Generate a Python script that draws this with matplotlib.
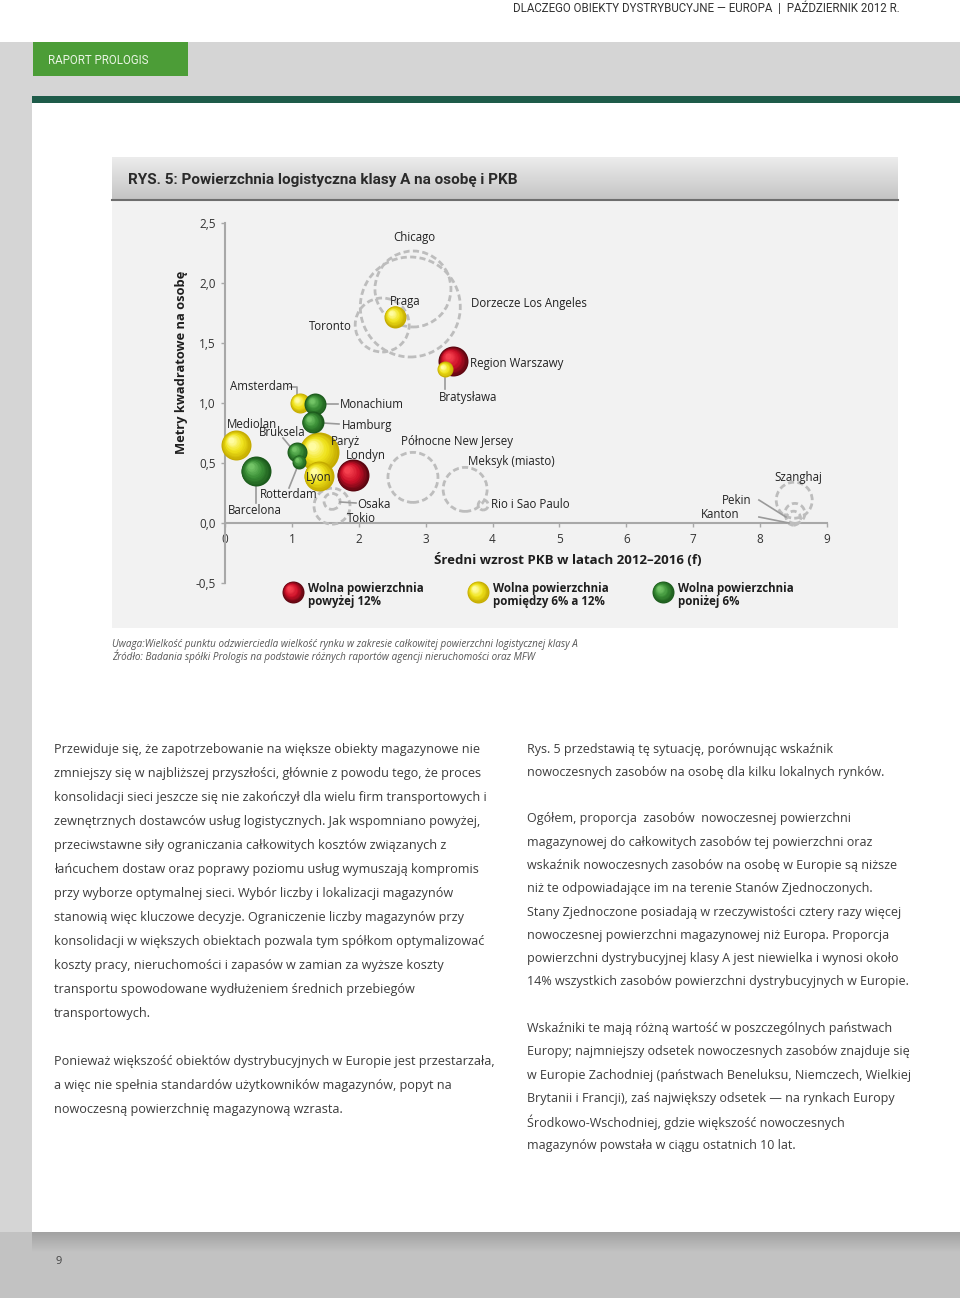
import numpy as np
import matplotlib
matplotlib.use("Agg")
import matplotlib.pyplot as plt
import matplotlib.colors as mcolors
from matplotlib.transforms import offset_copy

plt.rcParams['font.family'] = ['Open Sans', 'DejaVu Sans']
NARROW = ['Roboto', 'Open Sans', 'DejaVu Sans']

# --- dane: rynki (wzrost PKB, m2 na osobe, wielkosc rynku, wolna powierzchnia) ---
miasta = ['Chicago', 'Dorzecze Los Angeles', 'Toronto', 'Północne New Jersey',
          'Meksyk (miasto)', 'Rio i Sao Paulo', 'Tokio', 'Osaka',
          'Szanghaj', 'Pekin', 'Kanton',
          'Paryż', 'Mediolan', 'Barcelona', 'Bruksela', 'Rotterdam', 'Lyon',
          'Londyn', 'Amsterdam', 'Monachium', 'Hamburg', 'Praga',
          'Region Warszawy', 'Bratysława']
pkb = [2.81, 2.77, 2.35, 2.81, 3.59, 3.86, 1.60, 1.60, 8.51, 8.52, 8.50,
       1.40, 0.17, 0.46, 1.08, 1.11, 1.40, 1.91, 1.12, 1.35, 1.31, 2.54,
       3.41, 3.29]
m2_osoba = [1.95, 1.80, 1.65, 0.38, 0.28, 0.15, 0.14, 0.18, 0.19, 0.08, 0.04,
            0.59, 0.65, 0.43, 0.59, 0.51, 0.39, 0.40, 1.00, 0.99, 0.84, 1.72,
            1.35, 1.28]
wielkosc = [38, 50, 27, 25, 22, 5, 18, 8, 18, 10, 7,
            20, 15, 15, 10, 7, 15, 16, 10, 11, 11, 11, 15, 8]
# 'n' = rynek pozaeuropejski (bez danych o pustostanach)
wolna = ['n', 'n', 'n', 'n', 'n', 'n', 'n', 'n', 'n', 'n', 'n',
         'y', 'y', 'g', 'g', 'g', 'y', 'r', 'y', 'g', 'g', 'y', 'r', 'y']

y_ticks = [-0.5, 0.0, 0.5, 1.0, 1.5, 2.0, 2.5]
y_labels = ['-0,5', '0,0', '0,5', '1,0', '1,5', '2,0', '2,5']
x_ticks = [0, 1, 2, 3, 4, 5, 6, 7, 8, 9]

legenda = [('r', 'Wolna powierzchnia\npowyżej 12%'),
           ('y', 'Wolna powierzchnia\npomiędzy 6% a 12%'),
           ('g', 'Wolna powierzchnia\nponiżej 6%')]

tekst_lewy = [
    "Przewiduje się, że zapotrzebowanie na większe obiekty magazynowe nie",
    "zmniejszy się w najbliższej przyszłości, głównie z powodu tego, że proces",
    "konsolidacji sieci jeszcze się nie zakończył dla wielu firm transportowych i",
    "zewnętrznych dostawców usług logistycznych. Jak wspomniano powyżej,",
    "przeciwstawne siły ograniczania całkowitych kosztów związanych z",
    "łańcuchem dostaw oraz poprawy poziomu usług wymuszają kompromis",
    "przy wyborze optymalnej sieci. Wybór liczby i lokalizacji magazynów",
    "stanowią więc kluczowe decyzje. Ograniczenie liczby magazynów przy",
    "konsolidacji w większych obiektach pozwala tym spółkom optymalizować",
    "koszty pracy, nieruchomości i zapasów w zamian za wyższe koszty",
    "transportu spowodowane wydłużeniem średnich przebiegów",
    "transportowych.",
    "",
    "Ponieważ większość obiektów dystrybucyjnych w Europie jest przestarzała,",
    "a więc nie spełnia standardów użytkowników magazynów, popyt na",
    "nowoczesną powierzchnię magazynową wzrasta.",
]
tekst_prawy = [
    "Rys. 5 przedstawią tę sytuację, porównując wskaźnik",
    "nowoczesnych zasobów na osobę dla kilku lokalnych rynków.",
    "",
    "Ogółem, proporcja  zasobów  nowoczesnej powierzchni",
    "magazynowej do całkowitych zasobów tej powierzchni oraz",
    "wskaźnik nowoczesnych zasobów na osobę w Europie są niższe",
    "niż te odpowiadające im na terenie Stanów Zjednoczonych.",
    "Stany Zjednoczone posiadają w rzeczywistości cztery razy więcej",
    "nowoczesnej powierzchni magazynowej niż Europa. Proporcja",
    "powierzchni dystrybucyjnej klasy A jest niewielka i wynosi około",
    "14% wszystkich zasobów powierzchni dystrybucyjnych w Europie.",
    "",
    "Wskaźniki te mają różną wartość w poszczególnych państwach",
    "Europy; najmniejszy odsetek nowoczesnych zasobów znajduje się",
    "w Europie Zachodniej (państwach Beneluksu, Niemczech, Wielkiej",
    "Brytanii i Francji), zaś największy odsetek — na rynkach Europy",
    "Środkowo-Wschodniej, gdzie większość nowoczesnych",
    "magazynów powstała w ciągu ostatnich 10 lat.",
]

KOLORY = {'r': ('#5a0610', '#cc1028', '#f5404e'),
          'y': ('#c4aa00', '#f0e31a', '#fffca0'),
          'g': ('#1c5a1c', '#3a8e36', '#72c466')}

W, H = 960, 1298
fig = plt.figure(figsize=(W / 100, H / 100), dpi=100)
fig.patch.set_facecolor('#d5d5d5')

# tlo strony w pikselach
bg = fig.add_axes([0, 0, 1, 1])
bg.set_xlim(0, W)
bg.set_ylim(H, 0)
bg.axis('off')


def rect(x0, y0, x1, y1, c, z=1):
    bg.add_patch(plt.Rectangle((x0, y0), x1 - x0, y1 - y0, color=c, lw=0, zorder=z))


def gradient(x0, y0, x1, y1, c_top, c_bot, z):
    # wiersz 0 obrazu trafia na gorna krawedz (y0)
    g = np.linspace(0, 1, 60).reshape(-1, 1)
    cm = mcolors.LinearSegmentedColormap.from_list('g', [c_top, c_bot])
    bg.imshow(g, extent=(x0, x1, y1, y0), cmap=cm, aspect='auto', zorder=z)


rect(0, 0, W, 42, 'white')
rect(0, 1232, W, H, '#c2c2c2', 1.4)
gradient(32, 1232, W, 1252, '#a2a2a2', '#c2c2c2', 1.6)
rect(33, 42, 188, 76, '#4c9d37', 2)
rect(32, 96, W, 103, '#1e5b49', 2)
rect(32, 103, W, 1232, 'white', 2)
rect(112, 200, 898, 628, '#f2f2f2', 3)
gradient(112, 157, 898, 200, '#ececec', '#c4c4c4', 3)
bg.plot([112, 898], [200, 200], color='#6e6e6e', lw=1.5, zorder=4)
bg.set_xlim(0, W)
bg.set_ylim(H, 0)

bg.text(900, 8, 'DLACZEGO OBIEKTY DYSTRYBUCYJNE — EUROPA  |  PAŹDZIERNIK 2012 R.',
        family=NARROW, fontsize=8.3, color='#333333', ha='right', va='center', zorder=5)
bg.text(48, 60, 'RAPORT PROLOGIS', family=NARROW, fontsize=8.3, color='#eaf5e4',
        ha='left', va='center', zorder=5)
bg.text(128, 180, 'RYS. 5: Powierzchnia logistyczna klasy A na osobę i PKB', family=NARROW,
        fontsize=11.0, fontweight='bold', color='#2a2a2a', ha='left', va='center', zorder=5)
bg.text(56, 1261, '9', fontsize=8, color='#444444', ha='left', va='center', zorder=5)

bg.text(112, 644, 'Uwaga:Wielkość punktu odzwierciedla wielkość rynku w zakresie całkowitej '
        'powierzchni logistycznej klasy A', fontsize=7.1, style='italic', color='#555555',
        ha='left', va='center', zorder=5)
bg.text(112, 656, 'Źródło: Badania spółki Prologis na podstawie różnych raportów agencji '
        'nieruchomości oraz MFW', fontsize=7.1, style='italic', color='#555555',
        ha='left', va='center', zorder=5)

for i, linia in enumerate(tekst_lewy):
    bg.text(54, 749 + 24 * i, linia, fontsize=9.05, color='#3c3c3c', ha='left', va='center', zorder=5)
for i, linia in enumerate(tekst_prawy):
    bg.text(527, 749 + 23.3 * i, linia, fontsize=9.0, color='#3c3c3c', ha='left', va='center', zorder=5)


def mieszaj(a, b, t):
    a = np.array(mcolors.to_rgb(a))
    b = np.array(mcolors.to_rgb(b))
    return tuple(a + (b - a) * t)


def kula(ax, x, y, r, k, z):
    ciemny, sredni, jasny = KOLORY[k]
    n = 12
    for i in range(n):
        t = i / (n - 1)
        rr = r * (1 - 0.8 * t)
        off = r * 0.33 * t * 0.72
        c = mieszaj(ciemny, sredni, t * 2) if t < 0.5 else mieszaj(sredni, jasny, (t - 0.5) * 2)
        tr = offset_copy(ax.transData, fig=fig, x=-off, y=off, units='points')
        ax.scatter([x], [y], s=(1.44 * rr) ** 2, color=c, lw=0, transform=tr,
                   zorder=z + i * 0.01, clip_on=False)


# --- wykres ---
ax = fig.add_axes([225 / W, 1 - 583 / H, 602 / W, 360 / H])
ax.patch.set_visible(False)
ax.set_xlim(0, 9)
ax.set_ylim(-0.5, 2.5)
for s in ['top', 'right']:
    ax.spines[s].set_visible(False)
ax.spines['bottom'].set_position(('data', 0))
for s in ['left', 'bottom']:
    ax.spines[s].set_color('#a8a8a8')
    ax.spines[s].set_linewidth(1.5)
ax.set_yticks(y_ticks)
ax.set_yticklabels(y_labels)
ax.set_xticks(x_ticks)
ax.tick_params(axis='both', colors='#a8a8a8', labelcolor='#333333', labelsize=8.5, length=3, width=1)
ax.tick_params(axis='x', pad=4)

z = 5
for xi, yi, r, k in zip(pkb, m2_osoba, wielkosc, wolna):
    if k == 'n':
        ax.scatter([xi], [yi], s=(1.44 * r) ** 2, facecolors='none', edgecolors='#bdbdbd',
                   linewidths=2.0, linestyles=(0, (2.2, 1.2)), zorder=3, clip_on=False)
    else:
        kula(ax, xi, yi, r, k, z)
        z += 1


def P(px, py):
    return (px - 225) / 66.9, (523 - py) / 120.0


etykiety = [('Chicago', 414, 237, 'center'), ('Praga', 405, 301, 'center'),
            ('Dorzecze Los Angeles', 471, 304, 'left'), ('Toronto', 330, 327, 'center'),
            ('Region Warszawy', 470, 363, 'left'), ('Bratysława', 468, 397, 'center'),
            ('Amsterdam', 261, 387, 'center'), ('Monachium', 340, 405, 'left'),
            ('Mediolan', 252, 425, 'center'), ('Bruksela', 282, 432, 'center'),
            ('Hamburg', 342, 425, 'left'), ('Paryż', 346, 441, 'center'),
            ('Północne New Jersey', 401, 442, 'left'), ('Londyn', 366, 455, 'center'),
            ('Meksyk (miasto)', 468, 462, 'left'), ('Lyon', 319, 478, 'center'),
            ('Szanghaj', 798, 478, 'center'), ('Rotterdam', 289, 495, 'center'),
            ('Pekin', 737, 500, 'center'), ('Osaka', 374, 505, 'center'),
            ('Rio i Sao Paulo', 491, 505, 'left'), ('Barcelona', 255, 510, 'center'),
            ('Kanton', 720, 515, 'center'), ('Tokio', 361, 519, 'center')]
for nazwa, px, py, ha in etykiety:
    ax.text(*P(px, py), nazwa, fontsize=8.3, color='#222222', ha=ha, va='center', zorder=40)

linie = [[(290, 387), (297, 387), (297, 394)], [(326, 404), (338, 404)],
         [(323, 423), (339, 424)], [(283, 438), (293, 450)], [(289, 488), (297, 468)],
         [(256, 503), (256, 486)], [(445, 378), (445, 389)], [(340, 502), (356, 503)],
         [(759, 500), (786, 517)], [(759, 517), (789, 523)]]
for pts in linie:
    xs, ys = zip(*[P(a, b) for a, b in pts])
    ax.plot(xs, ys, color='#9a9a9a', lw=1.2, zorder=4, clip_on=False)

fig.text(182 / W, 1 - 362 / H, 'Metry kwadratowe na osobę', rotation=90, fontsize=9.3,
         fontweight='bold', color='#1e1e1e', ha='center', va='center')
fig.text(568 / W, 1 - 560 / H, 'Średni wzrost PKB w latach 2012–2016 (f)', fontsize=9.5,
         fontweight='bold', color='#1e1e1e', ha='center', va='center')

# legenda
for i, (k, opis) in enumerate(legenda):
    cx = 293 + 185 * i
    kula(bg, cx, 592, 11, k, 10)
    bg.text(cx + 15, 595, opis, fontsize=8.3, fontweight='bold', color='#1e1e1e',
            ha='left', va='center', linespacing=0.95, zorder=12)

fig.savefig('out.png', dpi=100, facecolor=fig.get_facecolor())
